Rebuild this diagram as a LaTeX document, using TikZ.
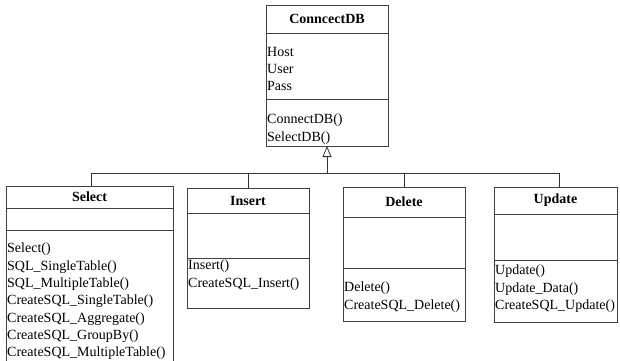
\documentclass[tikz,border=0pt]{standalone}
\usepackage{fontspec}
\setmainfont{Liberation Serif}
\usetikzlibrary{arrows.meta}
\tikzset{
  box/.style={draw=black!75, line width=0.8pt, anchor=north west, inner sep=0pt, outer sep=0pt},
  ttl/.style={font=\fontsize{14}{17}\selectfont\bfseries, inner sep=0pt},
  txt/.style={font=\fontsize{14}{17.3}\selectfont, anchor=north west, align=left, inner sep=0pt},
  wire/.style={draw=black!80, line width=0.8pt},
  inh/.style={wire, -{Triangle[open, length=11pt, width=9pt]}}
}
\newcommand{\cls}[7]{% name, x1, x2, ytop, ytitle, ysep, ybot
  \node[box, minimum width=#3-#2, minimum height=#5-#4] (#1T) at (#2,#4) {};
  \node[box, minimum width=#3-#2, minimum height=#6-#5] (#1A) at (#2,#5) {};
  \node[box, minimum width=#3-#2, minimum height=#7-#6] (#1M) at (#2,#6) {};
}
\begin{document}
\begin{tikzpicture}[x=1pt,y=-1pt]
\useasboundingbox (0,0) rectangle (620,360);
% ConncectDB
\cls{db}{266}{388}{5}{33}{99}{146}
\node[ttl] (dbt) at (dbT.center) {ConncectDB};
\node[txt] (dba) at (267,47) {Host\\User\\Pass};
\node[txt] (dbm) at (267,114) {ConnectDB()\\SelectDB()};
% Select
\begin{scope}
\clip (0,0) rectangle (620,360);
\cls{sel}{6}{173}{186}{208}{230}{372}
\end{scope}
\node[ttl] (selt) at (selT.center) {Select};
\node[txt] (selm) at (7,243) {Select()\\SQL\_SingleTable()\\SQL\_MultipleTable()\\CreateSQL\_SingleTable()\\CreateSQL\_Aggregate()\\CreateSQL\_GroupBy()\\CreateSQL\_MultipleTable()};
% Insert
\cls{ins}{187}{309}{188}{213}{258}{308}
\node[ttl] (inst) at (insT.center) {Insert};
\node[txt] (insm) at (188,260) {Insert()\\CreateSQL\_Insert()};
% Delete
\cls{del}{343}{465}{187}{217}{268}{321}
\node[ttl] (delt) at (delT.center) {Delete};
\node[txt] (delm) at (344,282) {Delete()\\CreateSQL\_Delete()};
% Update
\cls{upd}{494}{617}{187}{214}{260}{322}
\node[ttl] (updt) at (updT.center) {Update};
\node[txt] (updm) at (495,265) {Update()\\Update\_Data()\\CreateSQL\_Update()};
% connectors
\coordinate (j) at (dbM.south |- 0,173);
\coordinate (selc) at (91,186);
\coordinate (updc) at (559,187);
\draw[wire] (selc) -- (selc |- j) -- (updc |- j) -- (updc);
\draw[wire] (insT.north) -- (insT.north |- j);
\draw[wire] (delT.north) -- (delT.north |- j);
\draw[inh] (j) -- (dbM.south);
\end{tikzpicture}
\end{document}
